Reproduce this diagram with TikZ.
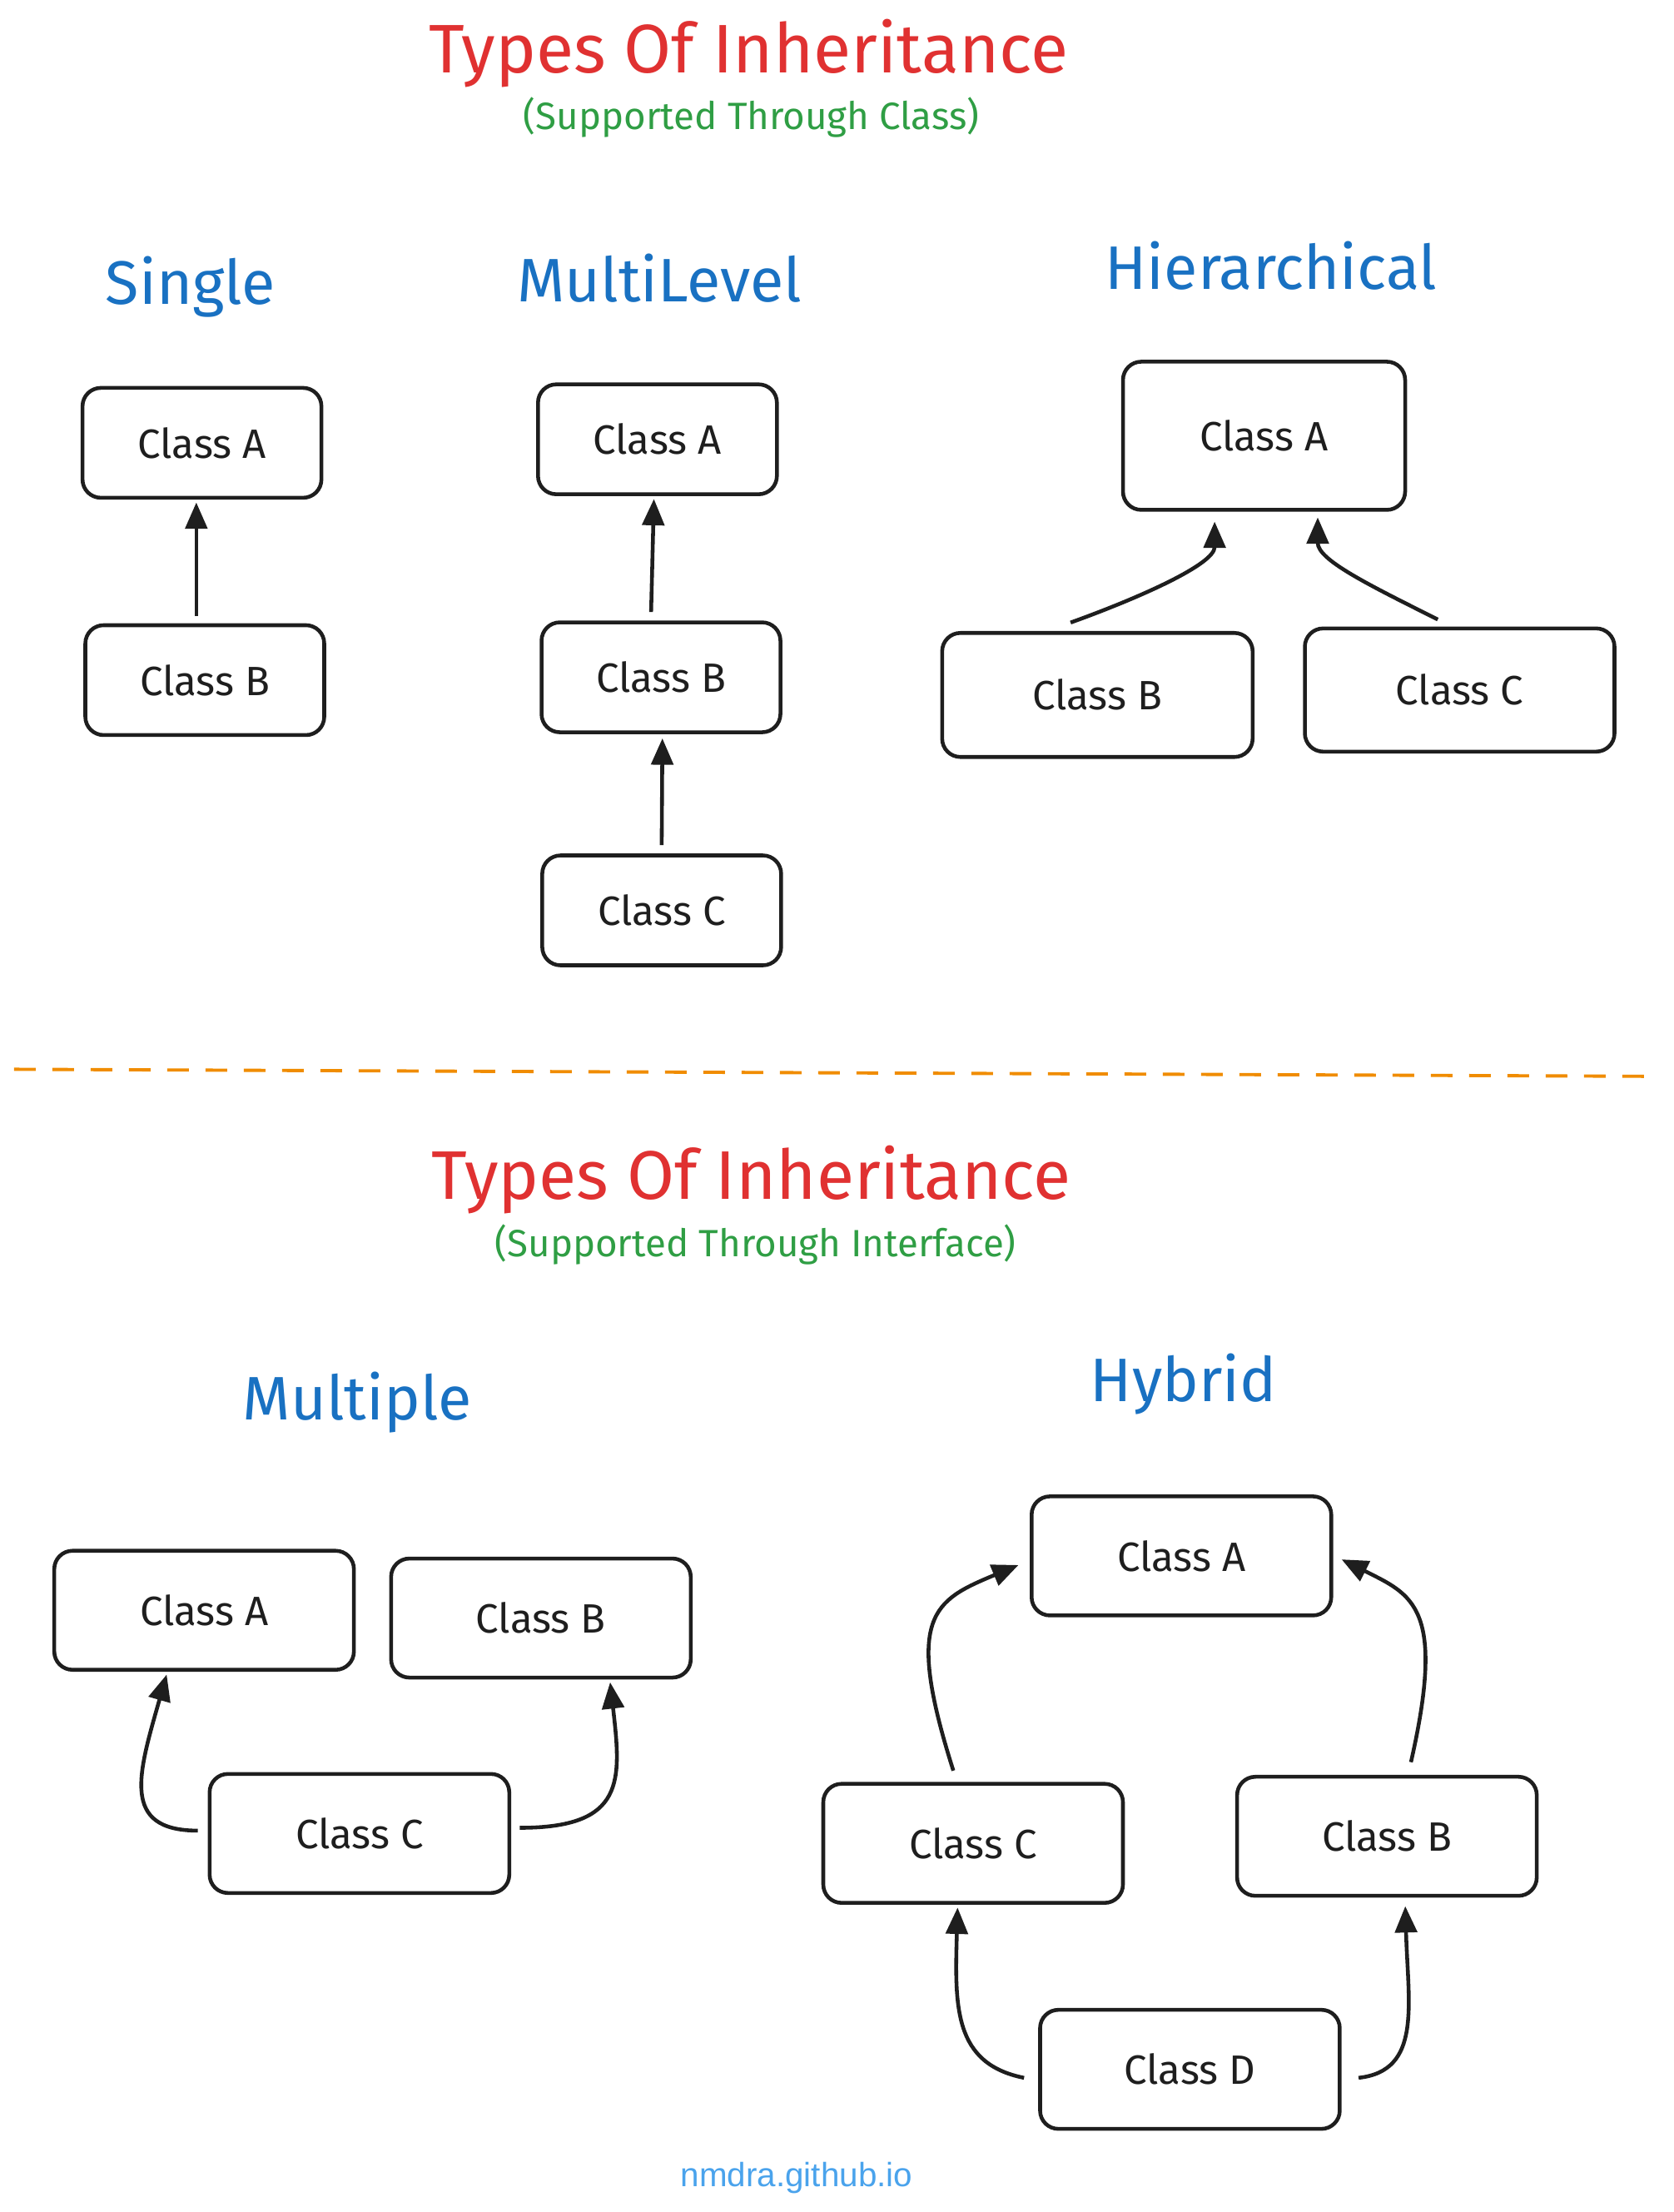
\documentclass[tikz,border=0pt]{standalone}
\usepackage{fontspec}
\setmainfont{Fira Sans}
\newfontfamily\footfont{Liberation Sans}
\usetikzlibrary{arrows.meta, calc}
\definecolor{ink}{HTML}{1E1E1E}
\definecolor{titlered}{HTML}{E03131}
\definecolor{subgreen}{HTML}{2F9E44}
\definecolor{headblue}{HTML}{1971C2}
\definecolor{cutorange}{HTML}{F08C00}
\definecolor{footblue}{HTML}{4AA3EC}
\begin{document}
\begin{tikzpicture}[x=0.01697cm, y=-0.01697cm]
\tikzset{
>={Triangle[length=9pt,width=7.5pt]},
  classbox/.style={
    rectangle,
    rounded corners=0.22cm,
    draw=ink, line width=1.3pt,
    text=ink,
    font=\fontsize{14}{16}\selectfont,
    minimum width=2.87cm,
    minimum height=1.32cm,
    inner sep=0pt},
  widebox/.style={classbox, minimum width=3.6cm, minimum height=1.43cm},
  link/.style={draw=ink, line width=1.3pt, ->},
  bigtitle/.style={text=titlered, font=\fontsize{23.5}{28}\selectfont},
  subtitle/.style={text=subgreen, font=\fontsize{13}{15}\selectfont},
  kind/.style={text=headblue, font=\fontsize{21}{24}\selectfont},
}
\useasboundingbox (0,0) rectangle (1185,1566);

% titles
\node[bigtitle] (title1) at (530,38) {Types Of Inheritance};
\node[subtitle] (sub1) at (532,83) {(Supported Through Class)};

\node[kind] (single) at (135,203) {Single};
\node[kind] (multilevel) at (467,197) {MultiLevel};
\node[kind] (hierarchical) at (900,188) {Hierarchical};

% single
\node[classbox] (sA) at (143,313.5) {Class A};
\node[classbox] (sB) at (145,481.5) {Class B};
\draw[link] ($(sB.north)+(-6,-5)$) -- ($(sA.south)+(-4,2)$);

% multilevel
\node[classbox] (mA) at (465.5,311) {Class A};
\node[classbox] (mB) at (468,479.5) {Class B};
\node[classbox] (mC) at (468.5,644.5) {Class C};
\draw[link] ($(mB.north)+(-7,-6)$) -- ($(mA.south)+(-2.5,2)$);
\draw[link] ($(mC.north)+(0,-6)$) -- ($(mB.south)+(1,3)$);

% hierarchical
\node[classbox, minimum width=3.39cm, minimum height=1.78cm] (hA) at (895,308.5) {Class A};
\node[classbox, minimum width=3.73cm, minimum height=1.49cm] (hB) at (777,492) {Class B};
\node[classbox, minimum width=3.72cm, minimum height=1.48cm] (hC) at (1033.5,488.5) {Class C};
\draw[link] ($(hB.north)+(-19,-6)$) .. controls +(50,-18) and +(0,30) .. ($(hA.south)+(-35,7)$);
\draw[link] ($(hC.north)+(-15.5,-5)$) .. controls +(-50,-25) and +(0,30) .. ($(hA.south)+(38,4)$);

% separator
\coordinate (cutL) at (10,757);
\coordinate (cutR) at (1172,762);
\draw[cutorange, line width=1.1pt, dash pattern=on 0.26cm off 0.2cm] (cutL) -- (cutR);

\node[bigtitle] (title2) at (532,835) {Types Of Inheritance};
\node[subtitle] (sub2) at (535,881) {(Supported Through Interface)};

\node[kind] (multiple) at (253,993) {Multiple};
\node[kind] (hybrid) at (838,980) {Hybrid};

% multiple
\node[widebox] (pA) at (144.5,1140) {Class A};
\node[widebox] (pB) at (383,1145.5) {Class B};
\node[widebox] (pC) at (254.5,1298) {Class C};
\draw[link] ($(pC.west)+(-7,-2)$) .. controls +(-55,0) and +(-20,70) .. ($(pA.south)+(-26.5,2)$);
\draw[link] ($(pC.east)+(6,-4)$) .. controls +(75,0) and +(8,70) .. ($(pB.south)+(49,2)$);

% hybrid
\node[widebox] (yA) at (836.5,1101.5) {Class A};
\node[widebox] (yC) at (689,1305) {Class C};
\node[widebox] (yB) at (982,1300) {Class B};
\node[widebox] (yD) at (842.5,1465) {Class D};
\draw[link] ($(yC.north)+(-14,-8)$) .. controls +(-35,-110) and +(-60,25) .. ($(yA.west)+(-8,6.5)$);
\draw[link] ($(yB.north)+(17,-9)$) .. controls +(25,-110) and +(50,25) .. ($(yA.east)+(6,2.5)$);
\draw[link] ($(yD.west)+(-10,6)$) .. controls +(-50,-10) and +(-2,70) .. ($(yC.south)+(-11,2)$);
\draw[link] ($(yD.east)+(12,6)$) .. controls +(45,-5) and +(2,70) .. ($(yB.south)+(13,6)$);

\node[text=footblue, font=\footfont\fontsize{11.5}{13}\selectfont] (footer) at (564,1542) {nmdra.github.io};

\end{tikzpicture}
\end{document}
